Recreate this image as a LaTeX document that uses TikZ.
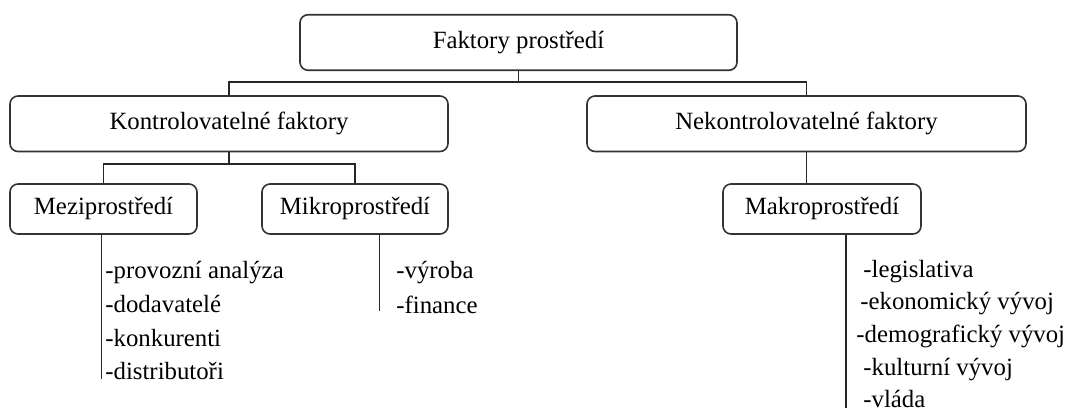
\documentclass[tikz,border=0pt]{standalone}
\usepackage{fontspec}
\setmainfont{Liberation Serif}
\usepackage{tikz}
\usetikzlibrary{positioning}

\begin{document}
\begin{tikzpicture}[
    x=0.5pt, y=-0.5pt,
    font=\fontsize{12.4}{14}\selectfont,
    box/.style={rectangle, draw=black!80, line width=0.8pt, rounded corners=4pt, minimum height=27.75pt, inner sep=0pt, align=center},
    subbox/.style={box, minimum height=25pt},
    item/.style={anchor=west, inner sep=0pt, text height=1.55ex, text depth=0.25ex},
    link/.style={draw=black!85, line width=0.8pt}
]
    \useasboundingbox (0,0) rectangle (1070,412);

    \node [box, minimum width=218.5pt] (top) at (518.5,42.5) {Faktory prostředí};
    \node [box, minimum width=219pt] (kontrol) at (229,123.75) {Kontrolovatelné faktory};
    \node [box, minimum width=219.5pt] (nekontrol) at (806.5,123.75) {Nekontrolovatelné faktory};
    \node [subbox, minimum width=93.5pt] (mezi) at (103.5,209) {Meziprostředí};
    \node [subbox, minimum width=93pt] (mikro) at (355,209) {Mikroprostředí};
    \node [subbox, minimum width=99pt] (makro) at (822,209) {Makroprostředí};

    \draw [link] (top.south) -- ++(0,11) -| (kontrol.north);
    \draw [link] (top.south) -- ++(0,11) -| (nekontrol.north);
    \draw [link] (kontrol.south) -- ++(0,11.5) -| (mezi.north);
    \draw [link] (kontrol.south) -- ++(0,11.5) -| (mikro.north);
    \draw [link] (nekontrol.south) -- (nekontrol.south |- makro.north);

    % svisle cary k vyctum
    \coordinate (meziend) at (101.6,379);
    \coordinate (mikroend) at (379.5,311);
    \coordinate (makroend) at (846,408);
    \draw [link] (mezi.south -| meziend) -- (meziend);
    \draw [link] (mikro.south -| mikroend) -- (mikroend);
    \draw [link] (makro.south -| makroend) -- (makroend);

    \node [item] (provoz) at (105,273) {-provozní analýza};
    \node [item] (dodav) at (105,307) {-dodavatelé};
    \node [item] (konkur) at (105,341) {-konkurenti};
    \node [item] (distrib) at (105,374) {-distributoři};

    \node [item] (vyroba) at (396,273) {-výroba};
    \node [item] (finance) at (396,308) {-finance};

    \node [item] (legis) at (863,272) {-legislativa};
    \node [item] (ekon) at (860,304) {-ekonomický vývoj};
    \node [item] (demo) at (856,337) {-demografický vývoj};
    \node [item] (kultur) at (863,370) {-kulturní vývoj};
    \node [item] (vlada) at (863,402) {-vláda};
\end{tikzpicture}
\end{document}
